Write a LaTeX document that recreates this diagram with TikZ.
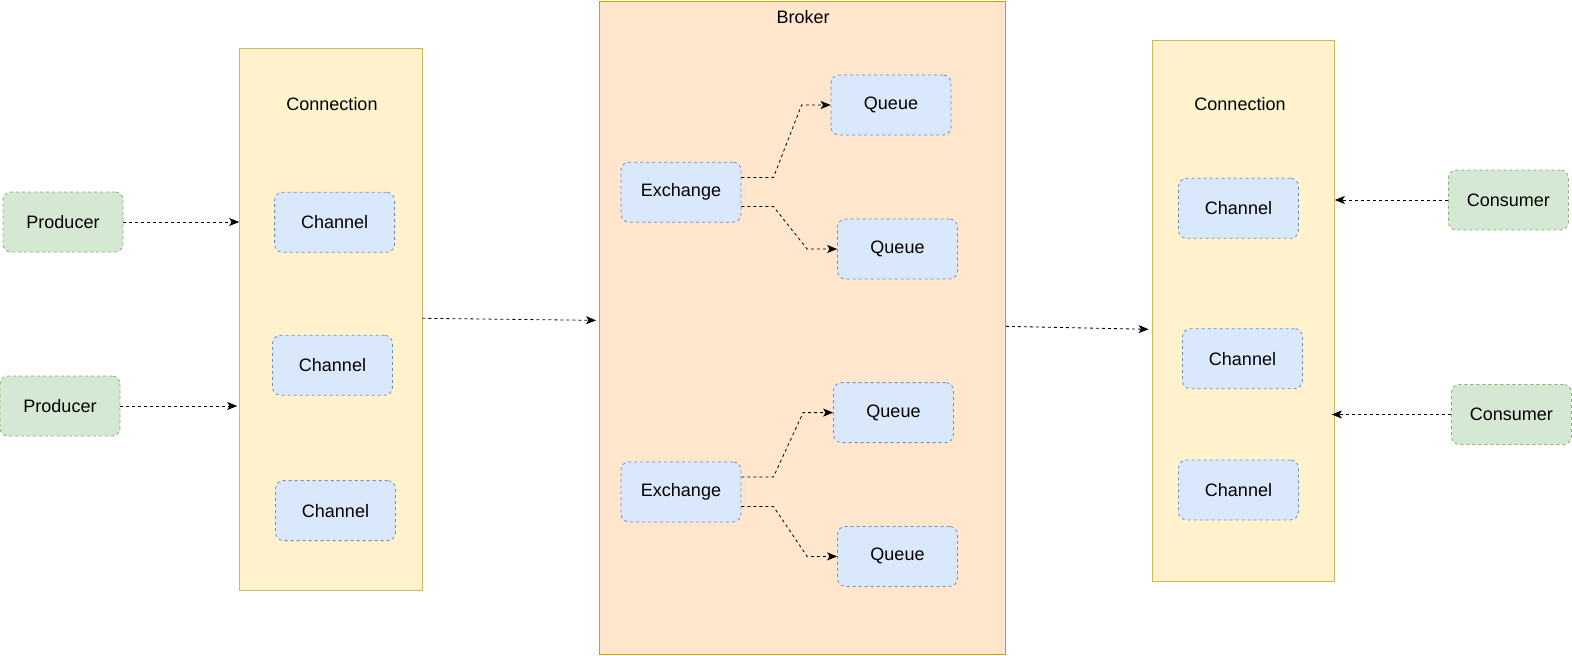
\documentclass[tikz,border=0pt]{standalone}
\usepackage{fontspec}
\setmainfont{Liberation Sans}
\usetikzlibrary{arrows.meta,calc}
\definecolor{gfill}{HTML}{D5E8D4}\definecolor{gline}{HTML}{82B366}
\definecolor{bfill}{HTML}{DAE8FC}\definecolor{bline}{HTML}{6C8EBF}
\definecolor{yfill}{HTML}{FFF2CC}\definecolor{yline}{HTML}{D6B656}
\definecolor{ofill}{HTML}{FFE6CC}\definecolor{oline}{HTML}{D79B00}
\begin{document}
\begin{tikzpicture}[x=1pt,y=-1pt,
  box/.style={draw, dash pattern=on 3pt off 3pt, line width=0.8pt, rounded corners=8pt,
    minimum width=120pt, minimum height=60pt, inner sep=0pt, font=\fontsize{18}{21}\selectfont},
  greenbox/.style={box, fill=gfill, draw=gline},
  bluebox/.style={box, fill=bfill, draw=bline},
  lbl/.style={font=\fontsize{18}{21}\selectfont, inner sep=0pt},
  link/.style={dash pattern=on 3pt off 3pt, line width=0.8pt, -{Stealth[length=10pt,width=8pt,inset=2.5pt]}}
]
\useasboundingbox (0,0) rectangle (1572,656);
% containers
\node[draw=yline, fill=yfill, line width=0.9pt, minimum width=182.4pt, minimum height=542.4pt, inner sep=0pt] (conL) at (330.8,319.3) {};
\node[draw=oline, fill=ofill, line width=0.9pt, minimum width=406pt, minimum height=653.7pt, inner sep=0pt] (broker) at (802.5,327.85) {};
\node[draw=yline, fill=yfill, line width=0.9pt, minimum width=182.4pt, minimum height=541.4pt, inner sep=0pt] (conR) at (1243.2,310.8) {};
\node[lbl] (conLlabel) at (332,104.5) {Connection};
\node[lbl] (brokerlabel) at (803,17.5) {Broker};
\node[lbl] (conRlabel) at (1240,104.5) {Connection};
% producers / consumers
\node[greenbox] (p1) at (63,222) {Producer};
\node[greenbox] (p2) at (60,406) {Producer};
\node[greenbox] (c1) at (1508.4,200) {Consumer};
\node[greenbox] (c2) at (1511.4,414.5) {Consumer};
% channels
\node[bluebox] (chL1) at (334.6,222.3) {Channel};
\node[bluebox] (chL2) at (332.5,365.3) {Channel};
\node[bluebox] (chL3) at (335.5,510.6) {Channel};
\node[bluebox] (chR1) at (1238.5,208.3) {Channel};
\node[bluebox] (chR2) at (1242.5,358.7) {Channel};
\node[bluebox] (chR3) at (1238.5,489.9) {Channel};
% exchanges and queues
\node[bluebox] (e1) at (681,192.2) {Exchange};
\node[bluebox] (e2) at (681,491.9) {Exchange};
\node[bluebox] (q1) at (891,105) {Queue};
\node[bluebox] (q2) at (897.5,249) {Queue};
\node[bluebox] (q3) at (893.5,412.6) {Queue};
\node[bluebox] (q4) at (897.5,556.4) {Queue};
% connectors
\draw[link] (p1.east) -- (p1.east -| conL.west);
\draw[link] (p2.east) -- ($(p2.east -| conL.west)+(-2,0)$);
\draw[link] ($(conL.east)+(0,-1)$) -- ($(broker.west)+(-3,-7.5)$);
\draw[link] ($(broker.east)+(0,-1.5)$) -- ($(conR.west)+(-3,18.5)$);
\draw[link] (c1.west) -- ($(c1.west -| conR.east)+(0,0)$);
\draw[link] (c2.west) -- ($(c2.west -| conR.east)+(-3,0)$);
\draw[link] ($(e1.east)+(0,-14.7)$) -- ++(32,0) -- ($(q1.west)+(-29,0)$) -- (q1.west);
\draw[link] ($(e1.east)+(0,14.3)$) -- ++(32,0) -- ($(q2.west)+(-30,0)$) -- (q2.west);
\draw[link] ($(e2.east)+(0,-14.9)$) -- ++(32,0) -- ($(q3.west)+(-30,0)$) -- (q3.west);
\draw[link] ($(e2.east)+(0,14.6)$) -- ++(32,0) -- ($(q4.west)+(-30,0)$) -- (q4.west);
\end{tikzpicture}
\end{document}
